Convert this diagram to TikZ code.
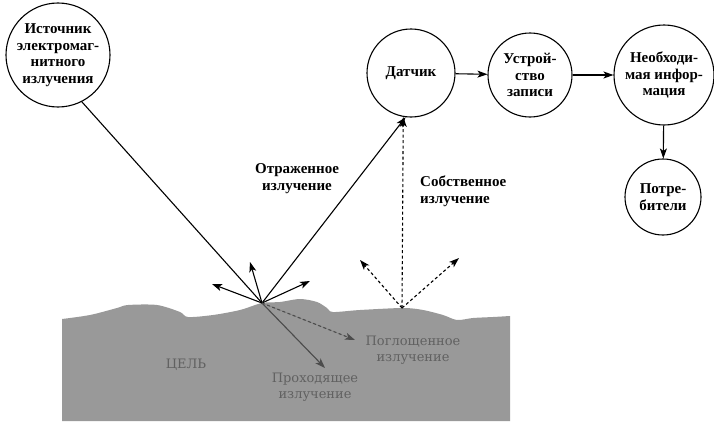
\documentclass[tikz,border=0pt]{standalone}
\usepackage{fontspec}
\setmainfont{Liberation Serif}
\newfontfamily\grayfont{DejaVu Serif}
\usetikzlibrary{arrows.meta}
\begin{document}
\begin{tikzpicture}[x=1pt,y=-1pt,
  circ/.style={circle,draw,line width=1.1pt,inner sep=0pt,align=center,font=\bfseries\fontsize{15}{16.5}\selectfont},
  lbl/.style={align=center,font=\bfseries\fontsize{15}{17}\selectfont,inner sep=0pt},
  glbl/.style={align=center,font=\grayfont\fontsize{13}{16}\selectfont,text=black!62,inner sep=0pt},
  ln/.style={line width=1.1pt},
  arr/.style={ln,-{Stealth[length=10pt,width=7pt,inset=2.5pt]}},
  darr/.style={arr,dash pattern=on 3pt off 2.5pt},
  garr/.style={arr,draw=black!70,fill=black!70}
]
\useasboundingbox (0,0) rectangle (714,431);
\fill[black!40] plot[smooth,tension=0.5] coordinates {(62,319) (90,315) (117,308) (128,305) (157,305) (180,312) (188,317) (213,315) (240,310) (262,303) (280,302) (300,299) (317,302) (327,308) (333,312) (360,310) (403,308) (423,310) (443,315) (457,320) (473,318) (493,317) (510,316)} -- (510,421) -- (62,421) -- cycle;

\node[circ,minimum size=104pt] (src) at (58,55) {Источник\\электромаг-\\нитного\\излучения};
\node[circ,minimum size=88pt] (sens) at (411,73) {Датчик};
\node[circ,minimum size=84pt] (rec) at (530,75) {Устрой-\\ство\\записи};
\node[circ,minimum size=100pt] (info) at (664,75) {Необходи-\\мая инфор-\\мация};
\node[circ,minimum size=76pt] (user) at (663,197) {Потре-\\бители};

\coordinate (P) at (262,303);
\coordinate (E) at (402,308);
\coordinate (s1) at (212,284);
\coordinate (s2) at (250,262);
\coordinate (s3) at (310,281);
\coordinate (tr) at (325,368);
\coordinate (ab) at (355,340);
\coordinate (e1) at (360,260);
\coordinate (e2) at (459,258);

\node[lbl] (refl) at (297,179) {Отраженное\\излучение};
\node[lbl,align=left,anchor=west] (own) at (420,191) {Собственное\\излучение};
\node[glbl] (target) at (186,365) {ЦЕЛЬ};
\node[glbl] (abs) at (413,350) {Поглощенное\\излучение};
\node[glbl] (trans) at (315,387) {Проходящее\\излучение};

\draw[ln] (src.-63) -- (P);
\draw[arr] (P) -- (sens.-97);
\draw[arr] (P) -- (s1);
\draw[arr] (P) -- (s2);
\draw[arr] (P) -- (s3);
\draw[garr] (P) -- (tr);
\draw[garr,dash pattern=on 3pt off 2.5pt] (P) -- (ab);
\draw[darr] (E) -- (sens.-100);
\draw[darr] (E) -- (e1);
\draw[darr] (E) -- (e2);
\draw[arr] (sens) -- (rec);
\draw[arr] (rec) -- (info);
\draw[arr] (info) -- (user);
\end{tikzpicture}
\end{document}
